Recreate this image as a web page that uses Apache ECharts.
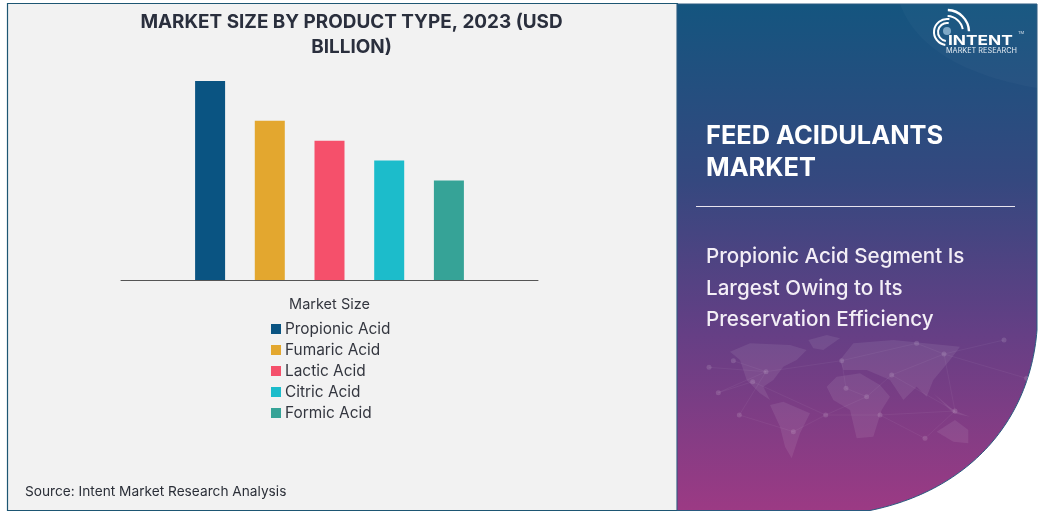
<!DOCTYPE html>
<html><head><meta charset="utf-8">
<style>html,body{margin:0;padding:0;background:#fff}#c{width:1043px;height:513px}</style>
<script src="https://cdn.jsdelivr.net/npm/echarts@6/dist/echarts.min.js"></script>
</head><body><div id="c"></div>
<script>
const categories = ['Market Size'];
const products = ['Propionic Acid','Fumaric Acid','Lactic Acid','Citric Acid','Formic Acid'];
const values = [5, 4, 3.5, 3, 2.5];
const colors = ['#0a5482','#e3a72f','#f5506b','#1cbccb','#36a397'];
const titleText = 'MARKET SIZE BY PRODUCT TYPE, 2023 (USD\nBILLION)';
const sideTitle = 'FEED ACIDULANTS\nMARKET';
const sideLines = ['Propionic Acid Segment Is','Largest Owing to Its','Preservation Efficiency'];
const sourceText = 'Source: Intent Market Research Analysis';
const FONT = 'Inter, "Noto Sans", sans-serif';

const mapPt = p => [640 + p[0]/3, 330 + p[1]/3];
const continents = [
 [[270,65],[330,40],[450,45],[500,60],[470,90],[430,110],[400,150],[370,170],[390,210],[360,190],[320,150],[300,90]],
 [[505,30],[560,15],[600,25],[550,60],[520,55]],
 [[390,225],[430,215],[510,250],[480,310],[455,385],[435,350],[420,290]],
 [[560,170],[590,140],[660,130],[720,165],[750,200],[725,240],[700,320],[650,325],[630,240],[580,210]],
 [[600,90],[640,40],[760,30],[960,50],[930,90],[880,150],[860,200],[830,170],[790,210],[750,150],[680,120],[610,120]],
 [[880,190],[940,240],[990,260],[940,250]],
 [[890,305],[945,270],[985,300],[985,340],[940,335]]
].map(c => c.map(mapPt));
const nodes = [[207,112],[280,92],[378,125],[235,188],[298,255],[338,155],[460,305],[557,255],[618,175],[680,200],[605,92],[755,135],[912,72],[945,243],[720,255],[1092,30],[1160,145],[830,40],[855,325]].map(mapPt);
const links = [[0,2],[1,2],[2,3],[3,5],[2,10],[5,7],[4,2],[6,7],[7,14],[7,9],[8,9],[9,11],[11,12],[12,15],[12,16],[11,13],[13,14],[14,18],[13,18],[10,17],[17,12],[6,4],[8,10],[12,13]];

function bez(p0,p1,p2,p3,n){
 const out=[];
 for(let i=0;i<=n;i++){const t=i/n,u=1-t;
  out.push([u*u*u*p0[0]+3*u*u*t*p1[0]+3*u*t*t*p2[0]+t*t*t*p3[0],u*u*u*p0[1]+3*u*u*t*p1[1]+3*u*t*t*p2[1]+t*t*t*p3[1]]);}
 return out;
}
const panelPts = [[677,4],[1037,4]].concat(bez([1037,330],[1030,420],[970,490],[870,510.5],60),[[677,510.5]]);
const bandPts = [[1037,4]].concat(bez([900,4],[915,45],[960,75],[1037,88],30));

const arc = (r,a,b,w) => ({type:'arc',z:6,silent:true,shape:{cx:947,cy:32,r:r,startAngle:a,endAngle:b},style:{stroke:'#fff',lineWidth:w,fill:null}});
const graphic = [
 {type:'rect',z:0,silent:true,shape:{x:7.5,y:3.5,width:670,height:507},style:{fill:'#f2f2f2',stroke:'#1d5673',lineWidth:1.2}},
 {type:'polygon',z:1,silent:true,shape:{points:panelPts},
  style:{stroke:'#2a5a80',lineWidth:1,fill:{type:'linear',x:0,y:0,x2:0,y2:1,colorStops:[{offset:0,color:'#14557f'},{offset:0.35,color:'#35487f'},{offset:0.65,color:'#653f85'},{offset:1,color:'#9c3a84'}]}}},
 {type:'polygon',z:2,silent:true,shape:{points:bandPts},style:{fill:'rgba(255,255,255,0.025)'}},
 {type:'line',z:5,silent:true,shape:{x1:696,y1:206.5,x2:1015,y2:206.5},style:{stroke:'#e8e4ee',lineWidth:1}},
 {type:'text',z:5,silent:true,left:706,top:120,style:{text:sideTitle,fill:'#fff',font:'bold 25.4px '+FONT,lineHeight:32}},
 {type:'text',z:5,silent:true,left:25,top:485,style:{text:sourceText,fill:'#2b2f38',font:'13.7px '+FONT}},
 arc(9,1.7,4.9,2), arc(13,1.7,4.9,2), arc(16,4.75,6.1,2), arc(22,4.75,6.25,2.4),
 {type:'circle',z:6,silent:true,shape:{cx:947,cy:31,r:4},style:{fill:'#7fa8c6'}},
 {type:'text',z:7,silent:true,x:948,y:33.5,scaleX:1.28,style:{text:'INTENT',fill:'#fff',font:'bold 13.5px '+FONT}},
 {type:'text',z:7,silent:true,x:946,y:47.5,style:{text:'MARKET RESEARCH',fill:'#e6edf3',font:'7.3px '+FONT}},
 {type:'text',z:7,silent:true,x:1018,y:31,style:{text:'TM',fill:'#d5e0ea',font:'4px '+FONT}}
];
sideLines.forEach((t,i)=>graphic.push({type:'text',z:5,silent:true,left:706,top:[246,278,309][i],style:{text:t,fill:'#f3eef6',font:'500 20.6px '+FONT}}));
continents.forEach(p=>graphic.push({type:'polygon',z:3,silent:true,shape:{points:p},style:{fill:'rgba(255,255,255,0.08)'}}));
links.forEach(([a,b])=>graphic.push({type:'line',z:3,silent:true,shape:{x1:nodes[a][0],y1:nodes[a][1],x2:nodes[b][0],y2:nodes[b][1]},style:{stroke:'rgba(255,255,255,0.07)',lineWidth:0.7}}));
nodes.forEach(n=>graphic.push({type:'circle',z:3,silent:true,shape:{cx:n[0],cy:n[1],r:2.5},style:{fill:'rgba(255,255,255,0.13)'}}));

const chart = echarts.init(document.getElementById('c'),null,{renderer:'canvas'});
chart.setOption({
 animation:false,
 backgroundColor:'#fff',
 graphic:{elements:graphic},
 title:{text:titleText,left:346.5,top:5,textAlign:'center',textStyle:{fontFamily:FONT,fontWeight:'bold',fontSize:18.9,lineHeight:25,color:'#2a2f3d'}},
 legend:{orient:'vertical',left:266,top:316,itemWidth:10,itemHeight:10,itemGap:5,icon:'rect',data:products,
  textStyle:{fontFamily:FONT,fontSize:15.4,color:'#33363f',padding:[0,0,0,-1],lineHeight:16}},
 grid:{left:121,right:505,top:81,bottom:233},
 xAxis:{type:'category',data:categories,name:'Market Size',nameLocation:'middle',nameGap:17,
  nameTextStyle:{fontFamily:FONT,fontSize:14.5,color:'#33363f'},
  axisLine:{lineStyle:{color:'#555',width:1}},axisTick:{show:false},axisLabel:{show:false}},
 yAxis:{type:'value',min:0,max:5,show:false,splitLine:{show:false}},
 series:products.map((p,i)=>({name:p,type:'bar',barWidth:30,barGap:'99%',data:[values[i]],itemStyle:{color:colors[i]}}))
});
</script></body></html>
